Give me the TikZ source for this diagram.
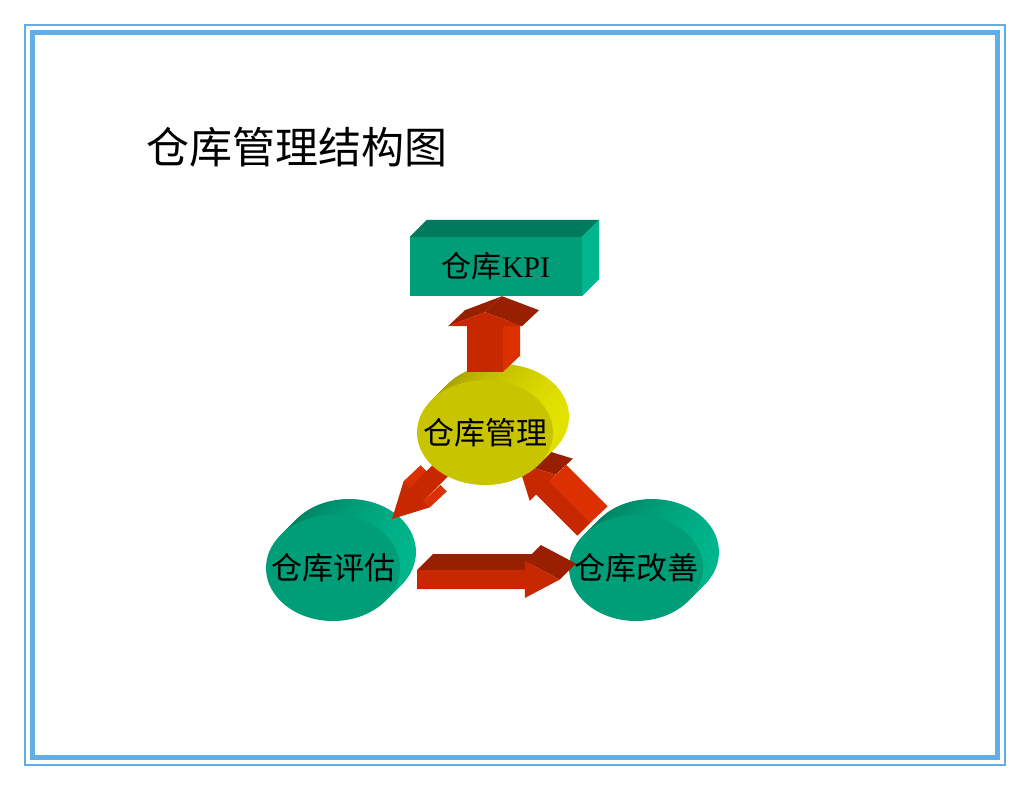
\documentclass[tikz,border=0pt]{standalone}
\usepackage{fontspec}
\setmainfont{Liberation Serif}
\newfontfamily\cjk{Noto Sans CJK SC}
\usetikzlibrary{calc,shapes.geometric}
\definecolor{frameblue}{HTML}{62AFE8}
\definecolor{gface}{HTML}{009E78}
\definecolor{gdark}{HTML}{007A5C}
\definecolor{glight}{HTML}{00B68C}
\definecolor{yface}{HTML}{C8C400}
\definecolor{ydark}{HTML}{A09800}
\definecolor{ylight}{HTML}{E4E400}
\definecolor{rface}{HTML}{C82800}
\definecolor{rdark}{HTML}{982000}
\definecolor{rlight}{HTML}{DC3000}
\pgfdeclarelayer{bg}
\pgfdeclarelayer{mid}
\pgfdeclarelayer{fg}
\pgfsetlayers{bg,mid,main,fg}
\tikzset{
  disc/.style={ellipse,inner sep=0pt,minimum width=134pt,minimum height=106pt,font=\cjk\fontsize{31}{31}\selectfont},
  sides/.style 2 args={
    preaction={left color=#1,right color=#2,transform canvas={shift={(16pt,16pt)}}},
    preaction={left color=#1,right color=#2,transform canvas={shift={(12pt,12pt)}}},
    preaction={left color=#1,right color=#2,transform canvas={shift={(8pt,8pt)}}},
    preaction={left color=#1,right color=#2,transform canvas={shift={(4pt,4pt)}}}},
  kpibox/.style={rectangle,inner sep=0pt,minimum width=172pt,minimum height=59pt,fill=gface,font=\fontsize{30}{30}\selectfont},
}
% start, end, shaft half width, head half width, head length, depth
\newcommand{\blockarrow}[6]{%
  \coordinate (hb) at ($(#2)!#5!(#1)$);
  \coordinate (p1) at ($(#1)!#3!90:(#2)$);
  \coordinate (p2) at ($(hb)!#3!90:(#2)$);
  \coordinate (p3) at ($(hb)!#4!90:(#2)$);
  \coordinate (p4) at (#2);
  \coordinate (p5) at ($(hb)!#4!-90:(#2)$);
  \coordinate (p6) at ($(hb)!#3!-90:(#2)$);
  \coordinate (p7) at ($(#1)!#3!-90:(#2)$);
  \foreach \pass in {0,1}
    \foreach \i/\j in {p1/p2,p2/p3,p3/p4,p4/p5,p5/p6,p6/p7,p7/p1}{
      \path let \p1=($(\j)-(\i)$) in \pgfextra{%
        \pgfmathtruncatemacro\tv{(\x1-\y1)>0.5}\xdef\gvis{\tv}%
        \pgfmathtruncatemacro\td{(\x1+\y1)>0.3*veclen(\x1,\y1)}\xdef\gdk{\td}};
      \ifnum\gvis=1 \ifnum\gdk=\pass
        \ifnum\gdk=1 \def\fc{rdark}\else\def\fc{rlight}\fi
        \fill[fill=\fc] (\i) -- (\j) -- ($(\j)+(#6)$) -- ($(\i)+(#6)$) -- cycle;
      \fi\fi
    }
  \fill[rface] (p1) -- (p2) -- (p3) -- (p4) -- (p5) -- (p6) -- (p7) -- cycle;
}

\begin{document}
\begin{tikzpicture}[x=1pt,y=-1pt]
\useasboundingbox (0,0) rectangle (1030,790);
\draw[frameblue,line width=2.3] (25.3,25.3) rectangle (1004.7,764.7);
\draw[frameblue,line width=5] (32.5,32.5) rectangle (997.5,757.5);

\node[anchor=west,inner sep=0pt,font=\cjk\fontsize{43}{43}\selectfont] (title) at (146,147) {仓库管理结构图};

\node[kpibox] (kpi) at (496,266.5) {{\cjk 仓库}KPI};
\fill[gdark] (kpi.north west) -- ++(17,-17) -- ($(kpi.north east)+(17,-17)$) -- (kpi.north east) -- cycle;
\fill[glight] (kpi.north east) -- ++(17,-17) -- ($(kpi.south east)+(17,-17)$) -- (kpi.south east) -- cycle;

\begin{pgfonlayer}{bg}
\node[disc,sides={gdark}{glight},fill=gface] (eval) at (333,568) {\makebox[0pt]{仓库评估}};
\node[disc,sides={gdark}{glight},fill=gface] (improve) at (636,568) {\makebox[0pt]{仓库改善}};
\end{pgfonlayer}
\node[disc,sides={ydark}{ylight},fill=yface,minimum width=136pt,minimum height=105pt] (mgmt) at (485,432.5) {\makebox[0pt]{仓库管理}};

\begin{pgfonlayer}{mid}
\blockarrow{$(mgmt.center)+(-26.5,20)$}{$(eval.center)+(59,-49)$}{9.5pt}{18.5pt}{35pt}{17,-16}
\blockarrow{$(improve.center)+(-52,-39)$}{$(mgmt.center)+(33,30.5)$}{9.5pt}{18.5pt}{35pt}{17,-16}
\end{pgfonlayer}
\begin{pgfonlayer}{fg}
\blockarrow{$(mgmt.north)+(0,-8)$}{$(mgmt.north |- kpi.south)+(0,16)$}{18pt}{37pt}{14pt}{17,-16}
\blockarrow{$(eval.east)+(17,11.5)$}{$(improve.west)+(-9,11.5)$}{9.5pt}{18.5pt}{35pt}{16,-16}
\end{pgfonlayer}
\end{tikzpicture}
\end{document}
